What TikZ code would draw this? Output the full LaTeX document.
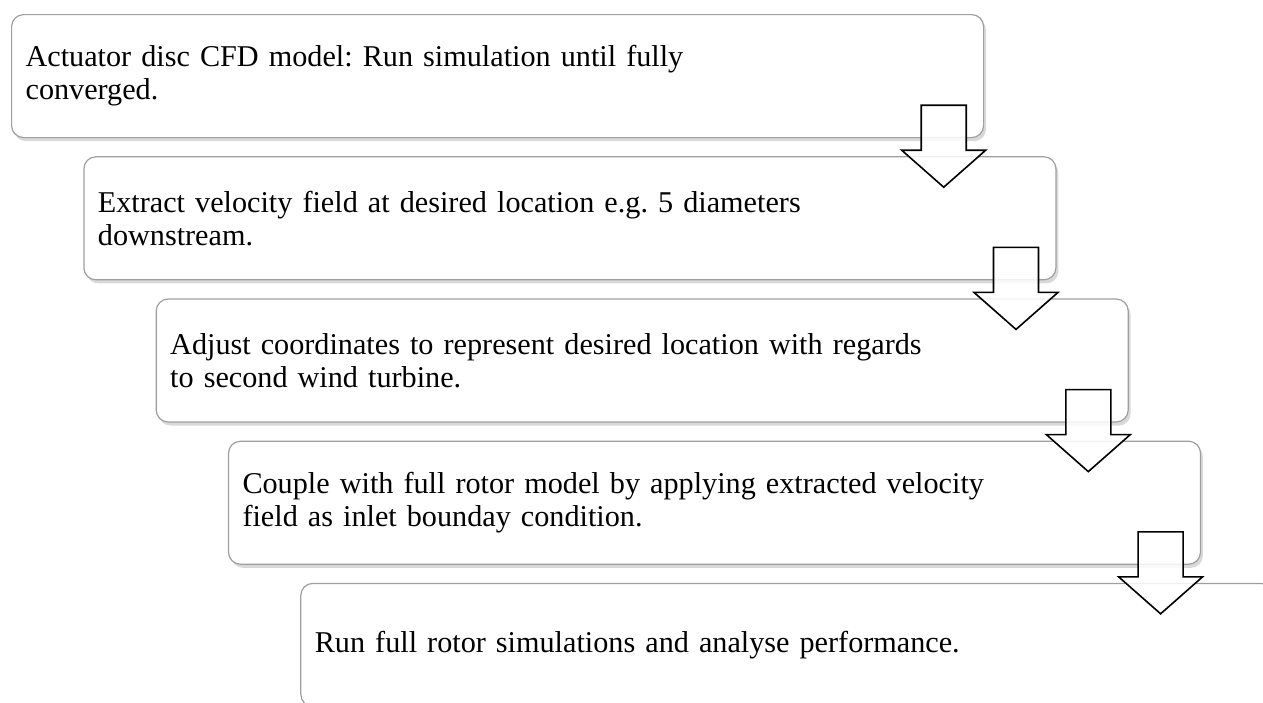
\documentclass[tikz,border=0pt]{standalone}
\usepackage{fontspec}
\setmainfont{Liberation Serif}
\usetikzlibrary{calc,shadows}
\tikzset{
  stepbox/.style={draw=gray!75, line width=0.6pt, rounded corners=6pt, fill=white,
                  anchor=north west, minimum width=486pt, minimum height=61.5pt,
                  text width=472pt, inner xsep=6.5pt, inner ysep=0pt, align=left,
                  font=\fontsize{15.1}{16.5}\selectfont\frenchspacing,
                  drop shadow={shadow xshift=1.2pt, shadow yshift=-1.8pt, opacity=0.3}},
  flowarrow/.style={draw=black, line width=0.8pt, fill=white, fill opacity=0.85,
                    line join=miter},
}
\begin{document}
\begin{tikzpicture}[x=0.5pt, y=-0.5pt]
  \useasboundingbox (0,0) rectangle (1263,702);
  \node[stepbox] (s1) at (11,14) {Actuator disc CFD model: Run simulation until fully\\ converged.};
  \node[stepbox] (s2) at ($(s1.north west)+(72.3,142.2)$) {Extract velocity field at desired location e.g. 5 diameters\\ downstream.};
  \node[stepbox] (s3) at ($(s2.north west)+(72.3,142.2)$) {Adjust coordinates to represent desired location with regards\\ to second wind turbine.};
  \node[stepbox] (s4) at ($(s3.north west)+(72.3,142.2)$) {Couple with full rotor model by applying extracted velocity\\ field as inlet bounday condition.};
  \node[stepbox] (s5) at ($(s4.north west)+(72.3,142.2)$) {Run full rotor simulations and analyse performance.};
  % block arrows between the steps
  \foreach \a in {1,2,3,4} {
    \coordinate (t\a) at ($(s\a.south east)+(-40.5,-33)$);
    \draw[flowarrow] ($(t\a)+(-22.5,0)$) -- ++(45,0) -- ++(0,45) -- ++(19.5,0)
      -- ($(t\a)+(0,82)$) -- ($(t\a)+(-42,45)$) -- ++(19.5,0) -- cycle;
  }
\end{tikzpicture}
\end{document}
